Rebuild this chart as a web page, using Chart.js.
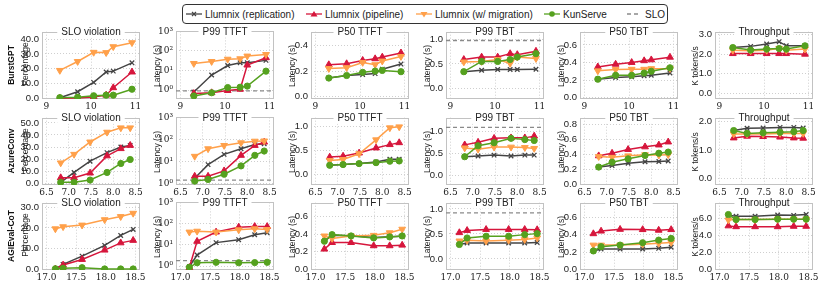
<!DOCTYPE html>
<html>
<head>
<meta charset="utf-8">
<script src="https://cdn.jsdelivr.net/npm/chart.js@4.4.1/dist/chart.umd.min.js"></script>
<style>
  html, body { margin: 0; padding: 0; background: #fff; }
  #fig { position: relative; width: 830px; height: 287px; overflow: hidden;
         font-family: 'Liberation Sans', Arial, sans-serif; color: #222; }
  #fig canvas { position: absolute; }
  .rot { position: absolute; white-space: nowrap; line-height: 1;
         transform: translate(-50%, -50%) rotate(-90deg); }
  .rowlab { font-weight: bold; font-size: 8.5px; color: #111; }
  .ylab { font-size: 8.5px; }
  #legend { position: absolute; left: 182px; top: 4px; width: 484px; height: 18px;
            border: 1px solid #333; border-radius: 4px; background: #fff; }
  .item { position: absolute; top: 0; height: 18px; display: flex; align-items: center;
          font-size: 10px; white-space: nowrap; }
  .item svg { margin-right: 3px; }
</style>
</head>
<body>
<div id="fig"><div id="legend"></div></div>

<script>
// ── Data ───────────────────────────────────────────────────────────────
// series order everywhere: replication, pipeline, w/ migration, KunServe
const seriesNames = ['Llumnix (replication)', 'Llumnix (pipeline)', 'Llumnix (w/ migration)', 'KunServe'];
const datasetNames = ['BurstGPT', 'AzureConv', 'AGIEval-CoT'];
const metricTitles = ['SLO violation', 'P99 TTFT', 'P50 TTFT', 'P99 TBT', 'P50 TBT', 'Throughput'];

// request rates (x axis)
const burstRate = [9.3, 9.7, 10.06, 10.34, 10.5, 10.92];
const azureRate = [6.82, 7.12, 7.48, 7.86, 8.17, 8.38];
const agiRate   = [17.15, 17.28, 17.6, 17.98, 18.25, 18.46];

const burstXTicks = [9, 10, 11];
const azureXTicks = [6.5, 7.0, 7.5, 8.0, 8.5];
const agiXTicks   = [17.0, 17.5, 18.0, 18.5];

// BurstGPT
const burstSlo = [
  [0.5, 4.5, 10.8, 17.8, 18.4, 24.0],
  [0.1, 0.3, 1.0, 2.2, 7.2, 17.8],
  [18.9, 24.9, 31.1, 30.9, 34.9, 37.6],
  [0.5, 0.8, 1.8, 2.2, 2.2, 6.2]
];
const burstP99Ttft = [
  [0.8, 5.9, 17.9, 25, 25, 33],
  [0.67, 0.73, 0.95, 1.1, 19, 45],
  [23, 29, 38, 40, 55, 66],
  [0.5, 0.73, 1.35, 1.4, 1.6, 9.3]
];
const burstP50Ttft = [
  [0.145, 0.165, 0.173, 0.18, 0.215, 0.255],
  [0.25, 0.258, 0.284, 0.297, 0.31, 0.343],
  [0.22, 0.227, 0.268, 0.25, 0.279, 0.315],
  [0.145, 0.165, 0.19, 0.2, 0.205, 0.195]
];
const burstP99Tbt = [
  [0.34, 0.37, 0.385, 0.385, 0.385, 0.39],
  [0.59, 0.64, 0.64, 0.71, 0.69, 0.76],
  [0.54, 0.55, 0.59, 0.51, 0.64, 0.61],
  [0.34, 0.55, 0.55, 0.59, 0.64, 0.71]
];
const burstP50Tbt = [
  [0.21, 0.23, 0.237, 0.25, 0.255, 0.28],
  [0.35, 0.38, 0.40, 0.42, 0.43, 0.46],
  [0.305, 0.32, 0.323, 0.323, 0.33, 0.33],
  [0.21, 0.255, 0.255, 0.28, 0.30, 0.34]
];
const burstTput = [
  [2.34, 2.40, 2.52, 2.64, 2.43, 2.43],
  [2.03, 2.03, 2.03, 2.03, 2.03, 2.0],
  [2.2, 2.17, 2.2, 2.3, 2.2, 2.26],
  [2.34, 2.21, 2.26, 2.29, 2.26, 2.43]
];

// AzureConv
const azureSlo = [
  [0.8, 9.0, 18.3, 25.4, 30.0, 31.4],
  [4.6, 4.6, 8.5, 22.7, 28.7, 31.4],
  [16.9, 24.0, 34.2, 42.3, 45.9, 45.9],
  [0.8, 0.8, 2.7, 9.0, 16.4, 19.7]
];
const azureP99Ttft = [
  [1.7, 7.1, 20.8, 37.5, 58.5, 63],
  [2.1, 2.1, 3.7, 18.8, 53, 75],
  [17, 37.5, 53, 70, 83, 85],
  [1.27, 1.5, 2.6, 6.2, 18.8, 29.5]
];
const azureP50Ttft = [
  [0.19, 0.205, 0.225, 0.26, 0.315, 0.315],
  [0.36, 0.38, 0.445, 0.55, 0.62, 0.66],
  [0.29, 0.31, 0.43, 0.72, 0.97, 0.99],
  [0.19, 0.205, 0.225, 0.245, 0.275, 0.28]
];
const azureP99Tbt = [
  [0.42, 0.435, 0.457, 0.435, 0.457, 0.457],
  [0.69, 0.75, 0.84, 0.85, 0.85, 0.89],
  [0.62, 0.59, 0.64, 0.64, 0.63, 0.61],
  [0.42, 0.67, 0.74, 0.84, 0.81, 0.79]
];
const azureP50Tbt = [
  [0.23, 0.25, 0.28, 0.30, 0.305, 0.31],
  [0.38, 0.415, 0.465, 0.50, 0.525, 0.565],
  [0.37, 0.36, 0.38, 0.395, 0.39, 0.395],
  [0.23, 0.295, 0.34, 0.385, 0.415, 0.43]
];
const azureTput = [
  [1.68, 1.76, 1.77, 1.79, 1.79, 1.77],
  [1.42, 1.48, 1.47, 1.45, 1.42, 1.41],
  [1.56, 1.56, 1.56, 1.58, 1.58, 1.58],
  [1.68, 1.58, 1.60, 1.62, 1.64, 1.68]
];

// AGIEval-CoT
const agiSlo = [
  [0.2, 2.4, 6.4, 11.6, 16.4, 19.3],
  [0.2, 2.1, 4.8, 9.3, 12.8, 14.0],
  [19.6, 20.6, 21.4, 24.0, 25.5, 27.1],
  [0.3, 0.5, 0.8, 0.2, 0.2, 0.2]
];
const agiP99Ttft = [
  [0.93, 3.3, 12.7, 17.5, 30, 37],
  [0.85, 14.6, 40, 68, 73, 73],
  [40, 44, 40, 51, 57, 53],
  [0.87, 1.43, 1.5, 1.43, 1.45, 1.5]
];
const agiP50Ttft = [
  [0.32, 0.385, 0.38, 0.36, 0.37, 0.375],
  [0.228, 0.303, 0.303, 0.266, 0.266, 0.273],
  [0.378, 0.35, 0.378, 0.385, 0.415, 0.455],
  [0.318, 0.393, 0.378, 0.356, 0.367, 0.378]
];
const agiP99Tbt = [
  [0.29, 0.32, 0.32, 0.32, 0.32, 0.33],
  [0.526, 0.57, 0.59, 0.59, 0.59, 0.585],
  [0.36, 0.375, 0.36, 0.375, 0.388, 0.42],
  [0.29, 0.42, 0.454, 0.454, 0.487, 0.507]
];
const agiP50Tbt = [
  [0.213, 0.236, 0.236, 0.236, 0.243, 0.255],
  [0.41, 0.44, 0.46, 0.457, 0.45, 0.457],
  [0.28, 0.28, 0.28, 0.29, 0.30, 0.31],
  [0.213, 0.262, 0.28, 0.307, 0.337, 0.356]
];
const agiTput = [
  [6.4, 6.3, 6.3, 6.45, 6.4, 6.5],
  [5.15, 5.05, 5.05, 5.05, 5.1, 5.1],
  [5.85, 5.9, 5.9, 5.95, 5.95, 5.95],
  [6.5, 5.9, 5.9, 5.95, 5.95, 5.95]
];

// SLO thresholds (seconds) per dataset: [P99 TTFT, P99 TBT]
const burstSloLine = [0.92, 0.98];
const azureSloLine = [1.41, 1.09];
const agiSloLine   = [1.8, 0.92];

// y tick labels per panel
const sloTicks   = [[0, 10, 20, 30, 40], [0, 10, 20, 30, 40, 50], [0, 10, 20, 30]];
const ttftTicks  = [1, 10, 100, 1000];
const p50TtftTicks = [[0, 0.2, 0.4], [0, 0.5, 1.0], [0, 0.2, 0.4, 0.6]];
const p99TbtTicks  = [0, 0.5, 1.0];
const p50TbtTicks  = [[0, 0.2, 0.4, 0.6], [0, 0.2, 0.4, 0.6, 0.8], [0, 0.2, 0.4, 0.6]];
const tputTicks    = [[0, 1, 2, 3], [0, 1, 2], [0, 2, 4, 6]];

// ── Style ──────────────────────────────────────────────────────────────
const SERIES_STYLE = [
  { color: '#444444', point: 'crossRot', rot: 0,   r: 3.2 },
  { color: '#d6163c', point: 'triangle', rot: 0,   r: 3.9 },
  { color: '#ffa04a', point: 'triangle', rot: 180, r: 3.9 },
  { color: '#55a11f', point: 'circle',   rot: 0,   r: 3.1 }
];
const SLO_COLOR = '#8a8a8a';
const GRID = '#cfcfcf';
const SANS = "'Liberation Sans', Arial, sans-serif";
const SERIF = "'DejaVu Serif', serif";

const COL_LEFT = [42, 176, 311, 446, 580, 715];
const ROW_TOP  = [31, 117, 202];
const PW = 98, PH = 68;
const PAD_L = 40, PAD_T = 8, PAD_R = 12, PAD_B = 16;

const SUP = { '0': '⁰', '1': '¹', '2': '²', '3': '³' };

// ── Panel decoration (frame + title on the top border) ─────────────────
const panelDecor = {
  id: 'panelDecor',
  beforeDatasetsDraw(chart) {
    const a = chart.chartArea, ctx = chart.ctx;
    ctx.save();
    ctx.strokeStyle = '#c2c2c2';
    ctx.lineWidth = 1;
    ctx.strokeRect(Math.round(a.left) + 0.5, Math.round(a.top) + 0.5,
                   Math.round(a.width) - 1, Math.round(a.height) - 1);
    ctx.restore();
  },
  afterDraw(chart, args, opts) {
    const a = chart.chartArea, ctx = chart.ctx;
    ctx.save();
    ctx.font = '10px ' + SANS;
    const w = ctx.measureText(opts.text).width + 8;
    const cx = (a.left + a.right) / 2;
    ctx.fillStyle = '#fff';
    ctx.fillRect(cx - w / 2, a.top - 6, w, 12);
    ctx.fillStyle = '#222';
    ctx.textAlign = 'center';
    ctx.textBaseline = 'middle';
    ctx.fillText(opts.text, cx, a.top + 0.5);
    ctx.restore();
  }
};

// ── Build a panel ──────────────────────────────────────────────────────
const fig = document.getElementById('fig');

function fixedTicks(vals) {
  return ax => { ax.ticks = vals.map(v => ({ value: v })); };
}

function panel(row, col, cfg) {
  const canvas = document.createElement('canvas');
  const cw = PAD_L + PW + PAD_R, ch = PAD_T + PH + PAD_B;
  canvas.width = cw; canvas.height = ch;
  canvas.style.width = cw + 'px'; canvas.style.height = ch + 'px';
  canvas.style.left = (COL_LEFT[col] - PAD_L) + 'px';
  canvas.style.top = (ROW_TOP[row] - PAD_T) + 'px';
  fig.appendChild(canvas);

  const datasets = cfg.series.map((vals, i) => {
    const s = SERIES_STYLE[i];
    return {
      label: seriesNames[i],
      data: cfg.xs.map((x, j) => ({ x, y: vals[j] })),
      borderColor: s.color, backgroundColor: s.color,
      borderWidth: 1.5, tension: 0,
      pointStyle: s.point, pointRotation: s.rot, pointRadius: s.r,
      pointBorderWidth: s.point === 'crossRot' ? 1.3 : 1,
      order: 3 - i
    };
  });
  if (cfg.slo != null) {
    datasets.push({
      label: 'SLO',
      data: [{ x: cfg.xMin, y: cfg.slo }, { x: cfg.xMax, y: cfg.slo }],
      borderColor: SLO_COLOR, borderWidth: 1.3, borderDash: [4, 3],
      pointRadius: 0, order: 10
    });
  }

  const isLog = cfg.log;
  new Chart(canvas.getContext('2d'), {
    type: 'line',
    data: { datasets },
    plugins: [panelDecor],
    options: {
      animation: false, responsive: false, devicePixelRatio: 1,
      layout: { padding: { top: PAD_T, right: PAD_R, left: 0, bottom: 0 } },
      plugins: {
        legend: { display: false }, tooltip: { enabled: false },
        panelDecor: { text: metricTitles[col] }
      },
      scales: {
        x: {
          type: 'linear', min: cfg.xMin, max: cfg.xMax,
          afterBuildTicks: fixedTicks(cfg.xTicks),
          afterFit: s => { s.height = PAD_B; },
          ticks: {
            autoSkip: false, maxRotation: 0, padding: 2, color: '#222',
            font: { family: SERIF, size: 9 },
            callback: v => cfg.xFmt(v)
          },
          grid: { color: GRID, drawTicks: false },
          border: { display: false, dash: [1, 2] }
        },
        y: {
          type: isLog ? 'logarithmic' : 'linear', min: cfg.yMin, max: cfg.yMax,
          afterBuildTicks: fixedTicks(cfg.yTicks),
          afterFit: s => { s.width = PAD_L; },
          ticks: {
            autoSkip: false, padding: 3, color: '#222',
            font: { family: isLog ? SERIF : SANS, size: isLog ? 9 : 9.5 },
            callback: v => isLog ? '10' + SUP[String(Math.round(Math.log10(v)))] : Number(v).toFixed(1)
          },
          grid: { color: GRID, drawTicks: false },
          border: { display: false, dash: [1, 2] }
        }
      }
    }
  });
}

function rotLabel(text, cls, cx, cy) {
  const d = document.createElement('div');
  d.className = 'rot ' + cls;
  d.textContent = text;
  d.style.left = cx + 'px';
  d.style.top = cy + 'px';
  fig.appendChild(d);
}

// ── Rows ───────────────────────────────────────────────────────────────
const ROWS = [
  { xs: burstRate, xTicks: burstXTicks, xMin: 8.9, xMax: 11.1, xFmt: v => String(v),
    data: [burstSlo, burstP99Ttft, burstP50Ttft, burstP99Tbt, burstP50Tbt, burstTput],
    slo: burstSloLine,
    yr: [[-0.4, 45], [0.35, 1000], [-0.02, 0.51], [-0.22, 1.16], [-0.015, 0.75], [-0.29, 3.15]] },
  { xs: azureRate, xTicks: azureXTicks, xMin: 6.4, xMax: 8.6, xFmt: v => v.toFixed(1),
    data: [azureSlo, azureP99Ttft, azureP50Ttft, azureP99Tbt, azureP50Tbt, azureTput],
    slo: azureSloLine,
    yr: [[-1.4, 54.3], [0.84, 1000], [-0.22, 1.18], [-0.225, 1.31], [-0.01, 0.89], [-0.23, 2.13]] },
  { xs: agiRate, xTicks: agiXTicks, xMin: 16.925, xMax: 18.575, xFmt: v => v.toFixed(1),
    data: [agiSlo, agiP99Ttft, agiP50Ttft, agiP99Tbt, agiP50Tbt, agiTput],
    slo: agiSloLine,
    yr: [[-0.3, 32.2], [0.65, 1000], [-0.01, 0.757], [-0.22, 1.125], [-0.005, 0.765], [-0.08, 7.9]] }
];

ROWS.forEach((r, ri) => {
  const yTicks = [sloTicks[ri], ttftTicks, p50TtftTicks[ri], p99TbtTicks, p50TbtTicks[ri], tputTicks[ri]];
  for (let c = 0; c < 6; c++) {
    panel(ri, c, {
      xs: r.xs, xTicks: r.xTicks, xMin: r.xMin, xMax: r.xMax, xFmt: r.xFmt,
      series: r.data[c], log: c === 1,
      yMin: r.yr[c][0], yMax: r.yr[c][1], yTicks: yTicks[c],
      slo: c === 1 ? r.slo[0] : c === 3 ? r.slo[1] : null
    });
  }
  const cy = ROW_TOP[ri] + PH / 2;
  rotLabel(datasetNames[ri], 'rowlab', 10.5, cy);
  rotLabel('Percentage', 'ylab', COL_LEFT[0] - 17, cy - 1);
  for (let c = 1; c < 5; c++) rotLabel('Latency (s)', 'ylab', COL_LEFT[c] - 19, cy + 1);
  rotLabel('K tokens/s', 'ylab', COL_LEFT[5] - 20, cy + 1);
});

// ── Legend ─────────────────────────────────────────────────────────────
const legendEl = document.getElementById('legend');
const LEG_X = [3, 123, 233, 361, 443];

function markerSvg(i) {
  const s = SERIES_STYLE[i];
  let m = '';
  if (s.point === 'crossRot') m = `<path d="M6 2 L10 6 M10 2 L6 6" stroke="${s.color}" stroke-width="1.2"/>`;
  else if (s.point === 'circle') m = `<circle cx="8" cy="4" r="2.8" fill="${s.color}"/>`;
  else if (s.rot === 180) m = `<path d="M4.5 2 L11.5 2 L8 7.5 Z" fill="${s.color}"/>`;
  else m = `<path d="M4.5 6.5 L11.5 6.5 L8 1 Z" fill="${s.color}"/>`;
  return `<svg width="16" height="8"><line x1="0" y1="4" x2="16" y2="4" stroke="${s.color}" stroke-width="1.3"/>${m}</svg>`;
}

seriesNames.concat(['SLO']).forEach((name, i) => {
  const it = document.createElement('div');
  it.className = 'item';
  it.style.left = LEG_X[i] + 'px';
  const icon = i < 4 ? markerSvg(i)
    : `<svg width="16" height="8"><line x1="1" y1="4" x2="15" y2="4" stroke="${SLO_COLOR}" stroke-width="1.3" stroke-dasharray="4 3"/></svg>`;
  it.innerHTML = icon + '<span>' + name + '</span>';
  legendEl.appendChild(it);
});
</script>
</body>
</html>
